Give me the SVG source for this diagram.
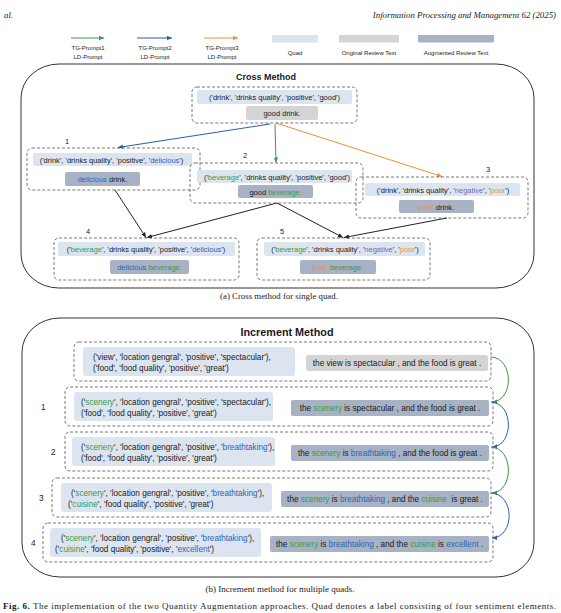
<svg xmlns="http://www.w3.org/2000/svg" width="561" height="613" viewBox="0 0 561 613">
<style>
.s{font-family:'Liberation Sans',Arial,Helvetica,sans-serif;fill:#1a1a1a}
.sr{font-family:'Liberation Serif','Times New Roman',serif;fill:#1a1a1a}
.c{font-size:7.5px;text-anchor:middle}
.i{font-size:8.2px}
.im{font-size:8.2px;text-anchor:middle}
.lg{font-size:6px;text-anchor:middle}
.dash{fill:none;stroke:#555;stroke-width:0.8;stroke-dasharray:3 2}
.quad{fill:#dce4f0}
.orig{fill:#d4d4d4}
.aug{fill:#a7b2c4}
.g{fill:#3d9a45}.b{fill:#2f63b8}.o{fill:#f0903a}.p{fill:#7a68a6}
.outer{fill:none;stroke:#333;stroke-width:1}
.ln{fill:none;stroke-width:1}
</style>
<defs>
<marker id="mg" markerWidth="6" markerHeight="6" refX="5" refY="3" orient="auto" markerUnits="userSpaceOnUse"><path d="M0,0.8 L5,3 L0,5.2 z" fill="#3d9a45"/></marker>
<marker id="mb" markerWidth="6" markerHeight="6" refX="5" refY="3" orient="auto" markerUnits="userSpaceOnUse"><path d="M0,0.8 L5,3 L0,5.2 z" fill="#2a5db0"/></marker>
<marker id="mo" markerWidth="6" markerHeight="6" refX="5" refY="3" orient="auto" markerUnits="userSpaceOnUse"><path d="M0,0.8 L5,3 L0,5.2 z" fill="#f0903a"/></marker>
<marker id="mk" markerWidth="6" markerHeight="6" refX="5" refY="3" orient="auto" markerUnits="userSpaceOnUse"><path d="M0,0.8 L5,3 L0,5.2 z" fill="#222"/></marker>
</defs>

<!-- header -->
<text class="sr" x="4" y="18" font-size="8.8" font-style="italic">al.</text>
<text class="sr" x="556" y="18" font-size="8.8" font-style="italic" text-anchor="end">Information Processing and Management 62 (2025)</text>

<!-- legend -->
<g id="legend">
<line x1="71" y1="38" x2="104" y2="38" stroke="#3d9a45" class="ln" marker-end="url(#mg)"/>
<line x1="137" y1="38" x2="172" y2="38" stroke="#2a5db0" class="ln" marker-end="url(#mb)"/>
<line x1="204" y1="38" x2="238" y2="38" stroke="#f0903a" class="ln" marker-end="url(#mo)"/>
<text class="s lg" x="88" y="50">TG-Prompt1</text><text class="s lg" x="88" y="59">LD-Prompt</text>
<text class="s lg" x="155" y="50">TG-Prompt2</text><text class="s lg" x="155" y="59">LD-Prompt</text>
<text class="s lg" x="222" y="50">TG-Prompt3</text><text class="s lg" x="222" y="59">LD-Prompt</text>
<rect class="quad" x="272" y="35" width="46" height="7.5"/>
<rect class="orig" x="339" y="35" width="60" height="7.5"/>
<rect class="aug" x="418" y="35" width="76" height="7.5"/>
<text class="s lg" x="295" y="55">Quad</text>
<text class="s lg" x="369" y="55">Original Review Text</text>
<text class="s lg" x="456" y="55">Augmented Review Text</text>
</g>

<!-- Cross method -->
<rect class="outer" x="21" y="64" width="513" height="224" rx="38" ry="34"/>
<text class="s" x="266" y="80" font-size="9" font-weight="bold" text-anchor="middle">Cross Method</text>

<g id="connectors-cross">
<line class="ln" stroke="#2a5db0" x1="270" y1="124" x2="118" y2="147.5" marker-end="url(#mb)"/>
<line class="ln" stroke="#3d9a45" x1="275" y1="124" x2="276" y2="162.5" marker-end="url(#mg)"/>
<line class="ln" stroke="#f0903a" x1="276" y1="123" x2="442" y2="176.5" marker-end="url(#mo)"/>
<line class="ln" stroke="#222" x1="115" y1="190" x2="146" y2="237.5" marker-end="url(#mk)"/>
<line class="ln" stroke="#222" x1="277" y1="203" x2="147" y2="237.5" marker-end="url(#mk)"/>
<line class="ln" stroke="#222" x1="277" y1="203" x2="343" y2="237.5" marker-end="url(#mk)"/>
<line class="ln" stroke="#222" x1="447" y1="218" x2="344" y2="237.5" marker-end="url(#mk)"/>
</g>

<g id="c0">
<rect class="dash" x="192" y="87" width="165" height="36" rx="5"/>
<rect class="quad" x="197" y="90" width="155" height="14" rx="2"/>
<text class="s c" x="274.5" y="100">('drink', 'drinks quality', 'positive', 'good')</text>
<rect class="orig" x="246" y="106" width="72" height="14" rx="2"/>
<text class="s c" x="282" y="116">good drink.</text>
</g>

<g id="c1">
<text class="s c" x="67" y="144">1</text>
<rect class="dash" x="27" y="148" width="173" height="42" rx="5"/>
<rect class="quad" x="33" y="153" width="159" height="13" rx="2"/>
<text class="s c" x="111.5" y="162.5">('drink', 'drinks quality', 'positive', '<tspan class="b">delicious</tspan>')</text>
<rect class="aug" x="65" y="172" width="75" height="14" rx="2"/>
<text class="s c" x="102.5" y="182"><tspan class="b">delicious</tspan> drink.</text>
</g>

<g id="c2">
<text class="s c" x="245" y="158">2</text>
<rect class="dash" x="190" y="163" width="173" height="40" rx="5"/>
<rect class="quad" x="197" y="170" width="155" height="13" rx="2"/>
<text class="s c" x="277" y="179.5">('<tspan class="g">beverage</tspan>', 'drinks quality', 'positive', 'good')</text>
<rect class="aug" x="238" y="185" width="75" height="13" rx="2"/>
<text class="s c" x="275.5" y="194.5">good <tspan class="g">beverage.</tspan></text>
</g>

<g id="c3">
<text class="s c" x="488" y="172">3</text>
<rect class="dash" x="356" y="177" width="172" height="41" rx="5"/>
<rect class="quad" x="365" y="183" width="155" height="13" rx="2"/>
<text class="s c" x="443" y="192.5">('drink', 'drinks quality', '<tspan class="p">negative</tspan>', '<tspan class="o">poor</tspan>')</text>
<rect class="aug" x="399" y="200" width="75" height="13" rx="2"/>
<text class="s c" x="436.5" y="209.5"><tspan class="o">poor</tspan> drink.</text>
</g>

<g id="c4">
<text class="s c" x="88" y="234">4</text>
<rect class="dash" x="54" y="238" width="185" height="42" rx="5"/>
<rect class="quad" x="58" y="242" width="177" height="14" rx="2"/>
<text class="s c" x="146" y="252">('<tspan class="g">beverage</tspan>', 'drinks quality', 'positive', '<tspan class="b">delicious</tspan>')</text>
<rect class="aug" x="110" y="260" width="79" height="14" rx="2"/>
<text class="s c" x="149.5" y="270"><tspan class="b">delicious</tspan> <tspan class="g">beverage.</tspan></text>
</g>

<g id="c5">
<text class="s c" x="282" y="234">5</text>
<rect class="dash" x="257" y="238" width="173" height="42" rx="5"/>
<rect class="quad" x="264" y="242" width="161" height="14" rx="2"/>
<text class="s c" x="345" y="252">('<tspan class="g">beverage</tspan>', 'drinks quality', '<tspan class="p">negative</tspan>', '<tspan class="o">poor</tspan>')</text>
<rect class="aug" x="300" y="260" width="76" height="14" rx="2"/>
<text class="s c" x="338" y="270"><tspan class="o">poor</tspan> <tspan class="g">beverage.</tspan></text>
</g>

<text class="sr" x="279" y="299" font-size="8.8" text-anchor="middle">(a)  Cross method for single quad.</text>

<!-- Increment method -->
<rect class="outer" x="22" y="318" width="512" height="259" rx="38" ry="34"/>
<text class="s" x="287" y="336" font-size="10.8" font-weight="bold" text-anchor="middle">Increment Method</text>

<g id="r0">
<rect class="dash" x="74" y="342" width="417" height="39" rx="5"/>
<rect class="quad" x="83" y="347" width="212" height="29" rx="3"/>
<text class="s i" x="93" y="359.5">('view', 'location gengral', 'positive', 'spectacular'),</text>
<text class="s i" x="93" y="370.5">('food', 'food quality', 'positive', 'great')</text>
<rect class="orig" x="306" y="355" width="182" height="16" rx="2"/>
<text class="s im" x="397" y="366">the view is spectacular , and the food is great .</text>
</g>

<g id="r1">
<text class="s i" x="41" y="410">1</text>
<rect class="dash" x="65" y="387" width="428" height="39" rx="5"/>
<rect class="quad" x="74" y="392" width="199" height="29" rx="3"/>
<text class="s i" x="81" y="404.5">('<tspan class="g">scenery</tspan>', 'location gengral', 'positive', 'spectacular'),</text>
<text class="s i" x="81" y="415.5">('food', 'food quality', 'positive', 'great')</text>
<rect class="aug" x="291" y="400" width="198" height="16" rx="2"/>
<text class="s im" x="390" y="411">the <tspan class="g">scenery</tspan> is spectacular , and the food is great .</text>
</g>

<g id="r2">
<text class="s i" x="51" y="455">2</text>
<rect class="dash" x="65" y="432" width="428" height="39" rx="5"/>
<rect class="quad" x="72" y="437" width="203" height="29" rx="3"/>
<text class="s i" x="81" y="449.5">('<tspan class="g">scenery</tspan>', 'location gengral', 'positive', '<tspan class="b">breathtaking</tspan>'),</text>
<text class="s i" x="81" y="460.5">('food', 'food quality', 'positive', 'great')</text>
<rect class="aug" x="291" y="445" width="198" height="16" rx="2"/>
<text class="s im" x="390" y="456">the <tspan class="g">scenery</tspan> is <tspan class="b">breathtaking</tspan> , and the food is great .</text>
</g>

<g id="r3">
<text class="s i" x="39" y="501">3</text>
<rect class="dash" x="52" y="478" width="439" height="39" rx="5"/>
<rect class="quad" x="61" y="483" width="211" height="29" rx="3"/>
<text class="s i" x="71" y="495.5">('<tspan class="g">scenery</tspan>', 'location gengral', 'positive', '<tspan class="b">breathtaking</tspan>'),</text>
<text class="s i" x="68" y="506.5">('<tspan class="g">cuisine</tspan>', 'food quality', 'positive', 'great')</text>
<rect class="aug" x="281" y="491" width="208" height="16" rx="2"/>
<text class="s im" x="385" y="502" xml:space="preserve">the <tspan class="g">scenery</tspan> is <tspan class="b">breathtaking</tspan> , and the <tspan class="g">cuisine</tspan>  is great .</text>
</g>

<g id="r4">
<text class="s i" x="31" y="546">4</text>
<rect class="dash" x="43" y="523" width="450" height="39" rx="5"/>
<rect class="quad" x="50" y="528" width="211" height="29" rx="3"/>
<text class="s i" x="61" y="540.5">('<tspan class="g">scenery</tspan>', 'location gengral', 'positive', '<tspan class="b">breathtaking</tspan>'),</text>
<text class="s i" x="55" y="551.5">('<tspan class="g">cuisine</tspan>', 'food quality', 'positive', '<tspan class="b">excellent</tspan>')</text>
<rect class="aug" x="270" y="536" width="219" height="16" rx="2"/>
<text class="s im" x="379.5" y="547">the <tspan class="g">scenery</tspan> is <tspan class="b">breathtaking</tspan> , and the <tspan class="g">cuisine</tspan> is <tspan class="b">excellent</tspan> .</text>
</g>

<g id="connectors-increment">
<path class="ln" stroke="#3d9a45" d="M491,357 C514,358 514,401 492,402" marker-end="url(#mg)"/>
<path class="ln" stroke="#2a5db0" d="M491,402 C514,403 514,446 492,447" marker-end="url(#mb)"/>
<path class="ln" stroke="#3d9a45" d="M491,447 C514,448 514,492 492,493" marker-end="url(#mg)"/>
<path class="ln" stroke="#2a5db0" d="M491,493 C515,494 515,537 492,538" marker-end="url(#mb)"/>
</g>

<text class="sr" x="280" y="592" font-size="9" text-anchor="middle">(b)  Increment method for multiple quads.</text>
<text class="sr" x="3" y="609" font-size="9" textLength="553" lengthAdjust="spacing"><tspan font-weight="bold">Fig. 6.</tspan> The implementation of the two Quantity Augmentation approaches. Quad denotes a label consisting of four sentiment elements.</text>
</svg>
